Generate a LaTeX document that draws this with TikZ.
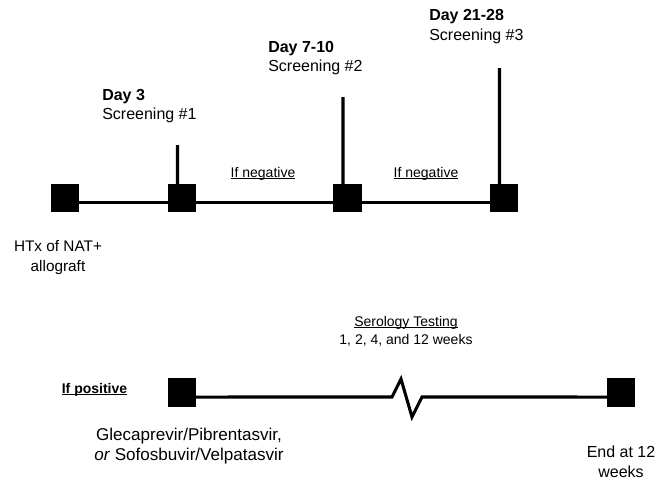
\documentclass[tikz,border=0pt]{standalone}
\usepackage{fontspec}
\setmainfont{Liberation Sans}
\newsavebox{\ulbox}
\newcommand{\undl}[1]{\sbox{\ulbox}{#1}\rlap{\rule[-1.3pt]{\wd\ulbox}{0.7pt}}\usebox{\ulbox}}
\begin{document}
\begin{tikzpicture}[
  x=0.75pt, y=-0.75pt,
  box/.style={draw=none, fill=black, rectangle, minimum size=21.4pt, inner sep=0pt},
  conn/.style={line width=2.3pt, line join=miter},
  lab/.style={inner sep=0pt, align=left, font=\fontsize{12pt}{14.5pt}\selectfont},
  small/.style={inner sep=0pt, align=center, font=\fontsize{10.5pt}{13.5pt}\selectfont},
  note/.style={inner sep=0pt, align=center, font=\fontsize{12pt}{15pt}\selectfont}
]
  \useasboundingbox (0,0) rectangle (667,482);

  % screening timeline
  \node[box] (s1) at (65,198) {};
  \node[box] (s2) at (182,198) {};
  \node[box] (s3) at (347.5,198) {};
  \node[box] (s4) at (504,198) {};

  \coordinate (t2) at (177.5,145);
  \coordinate (t3) at (343,97);
  \coordinate (t4) at (499.5,68);

  \draw[conn] ([yshift=-3.4pt]s1.center) -- ([yshift=-3.4pt]s2.center);
  \draw[conn] ([yshift=-3.4pt]s2.center) -- ([yshift=-3.4pt]s3.center);
  \draw[conn] ([yshift=-3.4pt]s3.center) -- ([yshift=-3.4pt]s4.center);
  \draw[conn] ([xshift=-3.4pt]s2.center) -- (t2);
  \draw[conn] ([xshift=-3.4pt]s3.center) -- (t3);
  \draw[conn] ([xshift=-3.4pt]s4.center) -- (t4);

  \node[lab, anchor=west] (d1) at (102,106) {\textbf{Day 3}\\Screening \#1};
  \node[lab, anchor=west] (d2) at (268,58) {\textbf{Day 7-10}\\Screening \#2};
  \node[lab, anchor=west] (d3) at (429,26.5) {\textbf{Day 21-28}\\Screening \#3};
  \node[small] (neg1) at (263,174) {\undl{If negative}};
  \node[small] (neg2) at (426,174) {\undl{If negative}};
  \node[note, font=\fontsize{11.5pt}{15pt}\selectfont] (htx) at (58,257.5) {HTx of NAT+\\allograft};

  % treatment timeline
  \node[box] (b1) at (182,392.5) {};
  \node[box] (b2) at (621,392.5) {};

  \draw[conn] ([yshift=-3.4pt]b1.center) -- (392,397) -- ++(9,-18) -- ++(11,38)
    -- ++(10,-20) -- ([yshift=-3.4pt]b2.center);

  \node[small] (pos) at (94.5,390) {\undl{\textbf{If positive}}};
  \node[small] (sero) at (406,331) {\undl{Serology Testing}\\1, 2, 4, and 12 weeks};
  \node[note, font=\fontsize{12.8pt}{15pt}\selectfont] (drug) at (189,446)
    {Glecaprevir/Pibrentasvir,\\\textit{or} Sofosbuvir/Velpatasvir};
  \node[note] (end) at (621,462) {End at 12\\weeks};
\end{tikzpicture}
\end{document}
